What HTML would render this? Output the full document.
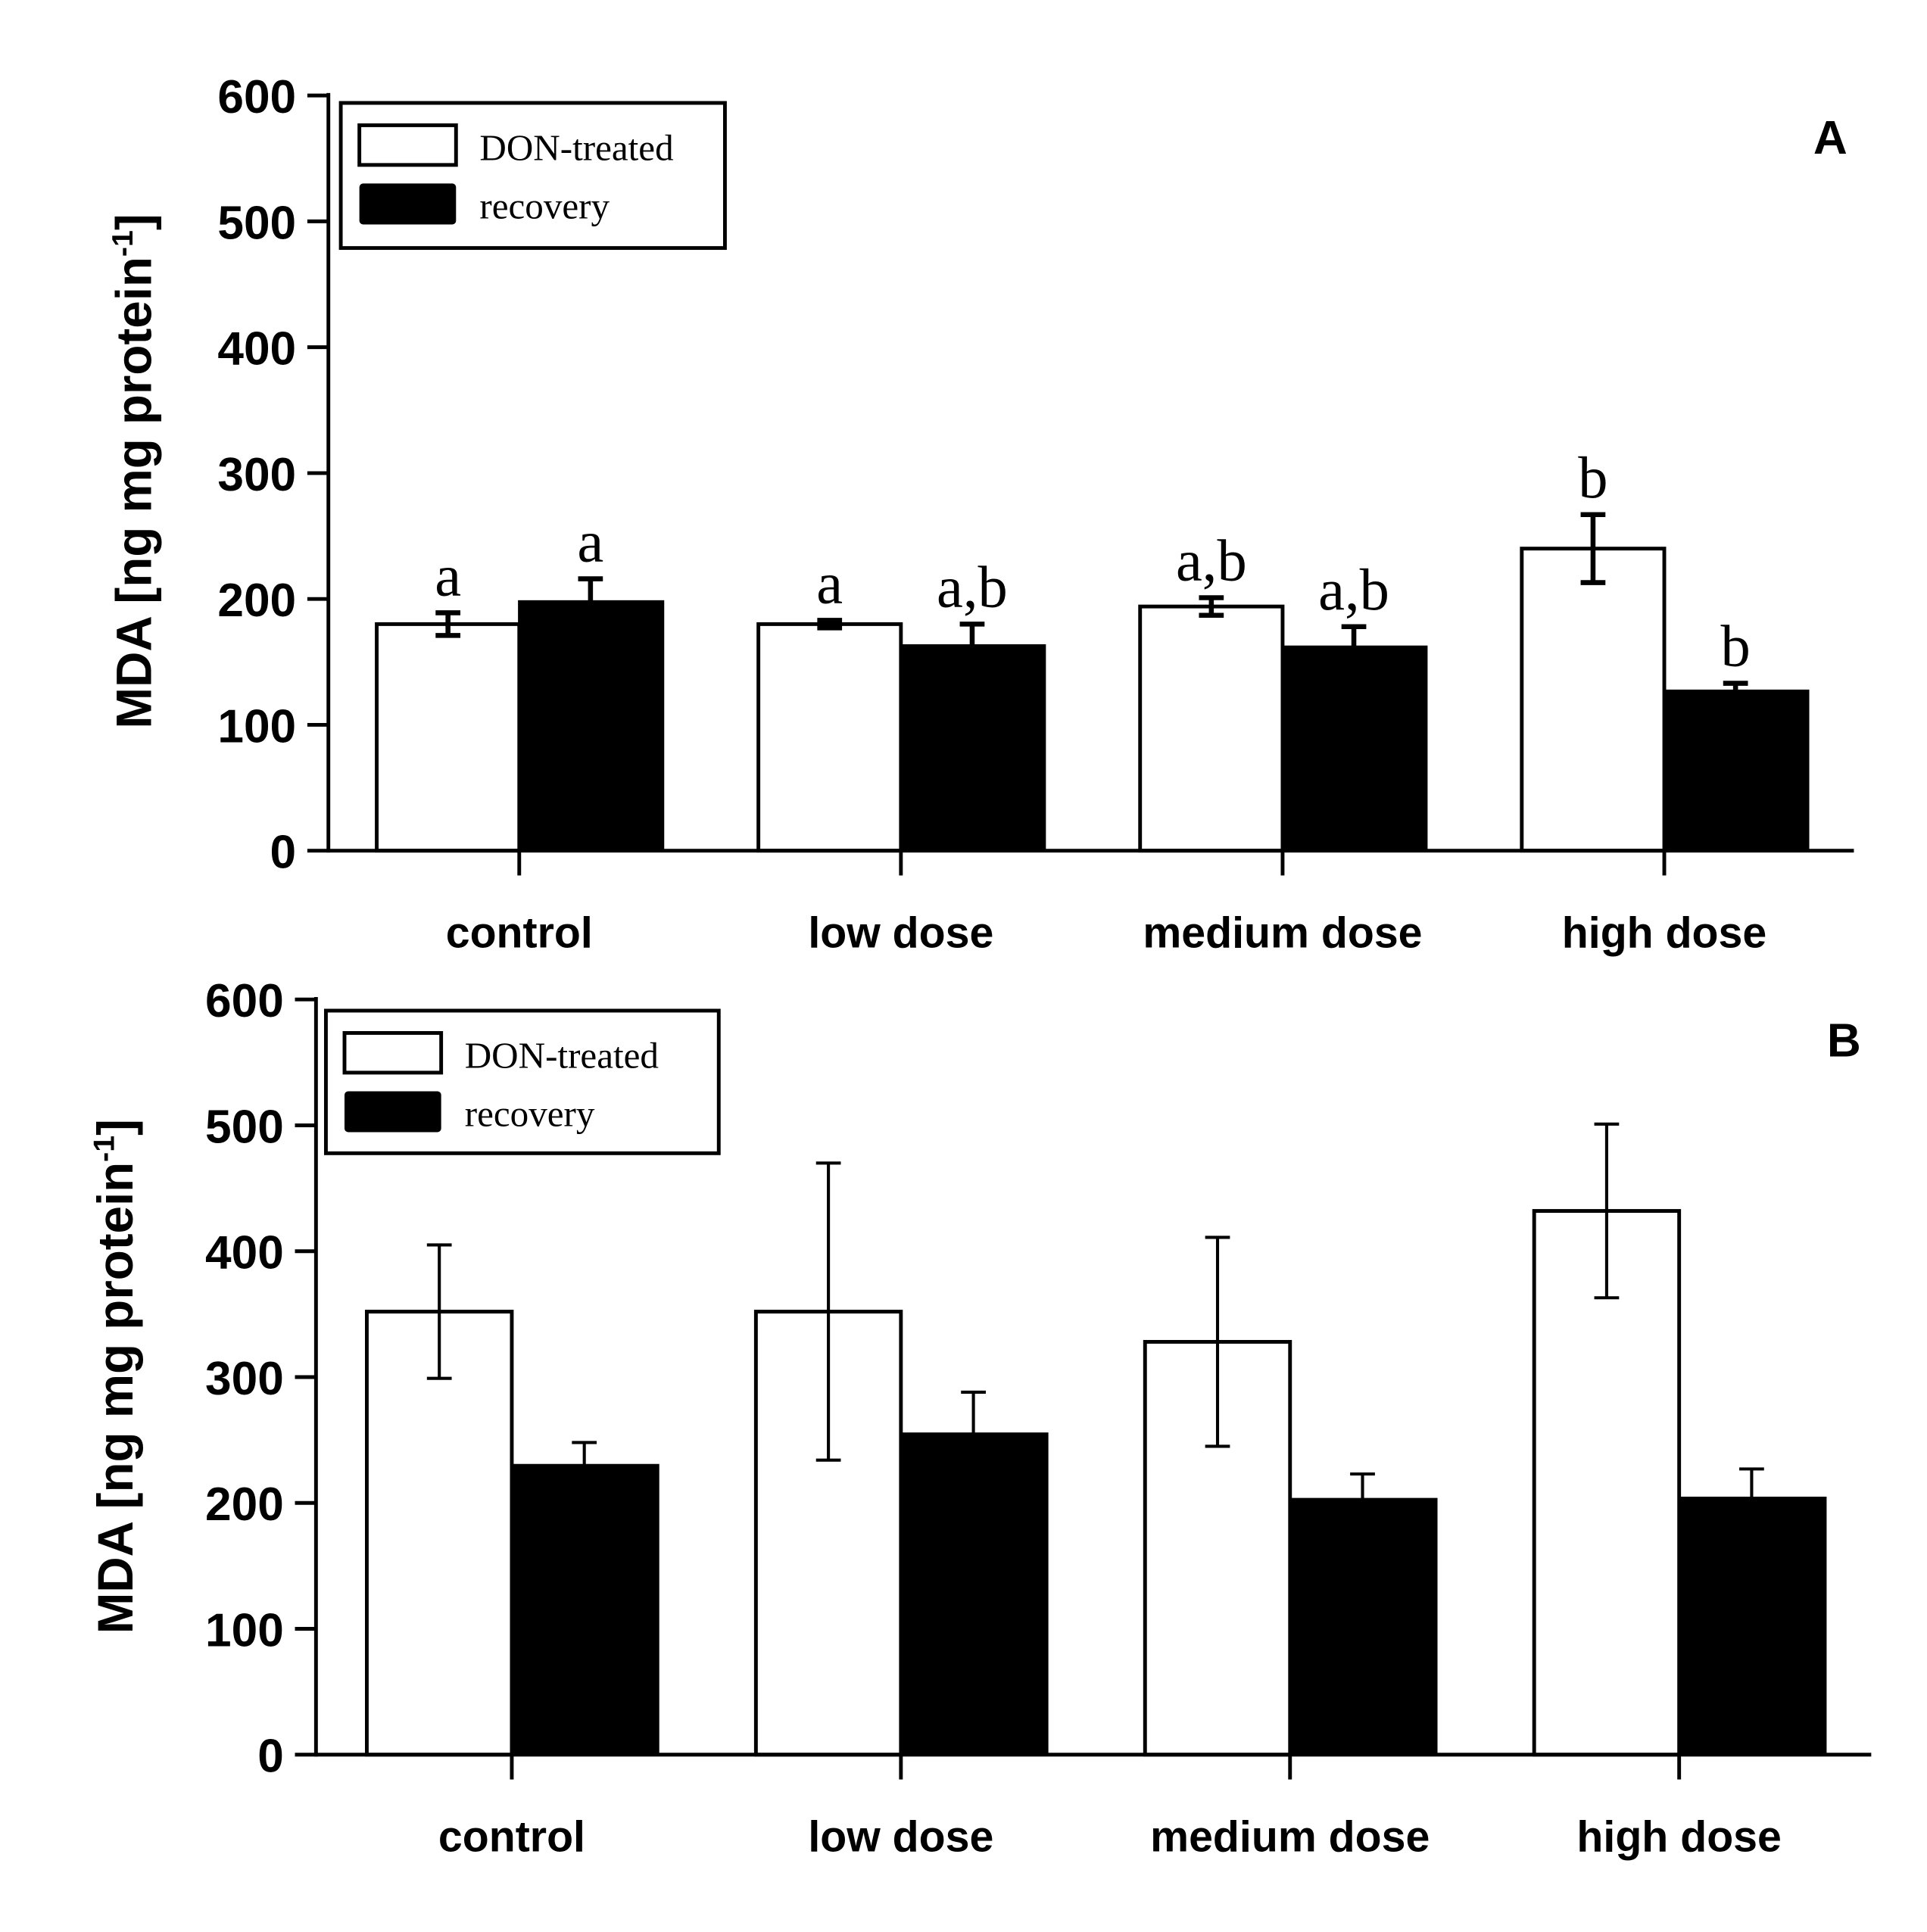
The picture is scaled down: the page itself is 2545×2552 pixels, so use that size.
<!DOCTYPE html>
<html><head><meta charset="utf-8"><style>
html,body{margin:0;padding:0;background:#fff;}
svg{display:block;}
.tick{font-family:"Liberation Sans",Arial,sans-serif;font-weight:bold;font-size:38px;}
.ytitle{font-family:"Liberation Sans",Arial,sans-serif;font-weight:bold;font-size:40px;}
.cat{font-family:"Liberation Sans",Arial,sans-serif;font-weight:bold;font-size:35px;}
.leg{font-family:"Liberation Serif",serif;font-size:30px;}
.let{font-family:"Liberation Serif",serif;font-size:48px;}
</style></head><body>
<svg id="chart" width="2545" height="2552" viewBox="0 0 1555 1558" preserveAspectRatio="none" xmlns="http://www.w3.org/2000/svg"></svg>
<script>
const categories = ["control","low dose","medium dose","high dose"];
const yTicks = [0,100,200,300,400,500,600];
const aTreated = [180,180,194,240];
const aTreatedErr = [9,3,7,27];
const aRecovery = [198,163,162,127];
const aRecoveryErr = [18,17,16,6];
const aTreatedLetters = ["a","a","a,b","b"];
const aRecoveryLetters = ["a","a,b","a,b","b"];
const bTreated = [352,352,328,432];
const bTreatedErr = [53,118,83,69];
const bRecovery = [230,255,203,204];
const bRecoveryErr = [18,33,20,23];

const svg = document.getElementById('chart');
const NS = 'http://www.w3.org/2000/svg';
function mk(tag, attrs, parent){const e=document.createElementNS(NS,tag);for(const k in attrs)e.setAttribute(k,attrs[k]);(parent||svg).appendChild(e);return e;}

function panel(cfg){
  const g = mk('g',{});
  
  
  const y = v => cfg.y0 - (v/600)*(cfg.y0-cfg.y600);
  const cx = i => cfg.c0 + i*cfg.gw;
  const bw = cfg.bw;
  for(let i=0;i<categories.length;i++){
    const c=cx(i);
    const tv=cfg.t[i], rv=cfg.r[i];
    const e1 = mk('g',{},g);
    
    
    const ex=c-bw/2;
    mk('line',{x1:ex,x2:ex,y1:y(tv+cfg.te[i]),y2:y(tv-cfg.te[i]),stroke:'#000','stroke-width':cfg.ew},e1);
    mk('line',{x1:ex-10,x2:ex+10,y1:y(tv+cfg.te[i]),y2:y(tv+cfg.te[i]),stroke:'#000','stroke-width':cfg.ew},e1);
    mk('line',{x1:ex-10,x2:ex+10,y1:y(tv-cfg.te[i]),y2:y(tv-cfg.te[i]),stroke:'#000','stroke-width':cfg.ew},e1);
    const b1=mk('rect',{x:c-bw,y:y(tv),width:bw,height:y(0)-y(tv),fill:'none',stroke:'#000','stroke-width':3},g);
    
    
    const b2=mk('rect',{x:c,y:y(rv),width:bw+1,height:y(0)-y(rv),fill:'#000',stroke:'#000','stroke-width':2},g);
    
    
    const rx=c+bw/2;
    const e2=mk('g',{},g);
    
    
    mk('line',{x1:rx,x2:rx,y1:y(rv+cfg.re[i]),y2:y(rv),stroke:'#000','stroke-width':cfg.ew},e2);
    mk('line',{x1:rx-10,x2:rx+10,y1:y(rv+cfg.re[i]),y2:y(rv+cfg.re[i]),stroke:'#000','stroke-width':cfg.ew},e2);
    if(cfg.tl){
      const t1=mk('text',{x:ex,y:y(tv+cfg.te[i])-14,'text-anchor':'middle',class:'let'},g);
      t1.textContent=cfg.tl[i];
      
      
      const t2=mk('text',{x:rx,y:y(rv+cfg.re[i])-14,'text-anchor':'middle',class:'let'},g);
      t2.textContent=cfg.rl[i];
      
      
    }
    mk('line',{x1:c,x2:c,y1:y(0),y2:y(0)+20,stroke:'#000','stroke-width':3},g);
    const lab=mk('text',{x:c,y:cfg.labY,'text-anchor':'middle',class:'cat'},g);
    lab.textContent=categories[i];
    
    
  }
  const ya=mk('line',{x1:cfg.ax,x2:cfg.ax,y1:y(600)-2,y2:y(0)+1.5,stroke:'#000','stroke-width':3},g);
  
  
  const xa=mk('line',{x1:cfg.ax,x2:cfg.axEnd,y1:y(0),y2:y(0),stroke:'#000','stroke-width':3},g);
  
  
  yTicks.forEach(v=>{
    mk('line',{x1:cfg.ax-17,x2:cfg.ax,y1:y(v),y2:y(v),stroke:'#000','stroke-width':3},g);
    const t=mk('text',{x:cfg.ax-26,y:y(v)+14,'text-anchor':'end',class:'tick'},g);
    t.textContent=v;
    
    
  });
  const yt=mk('text',{x:0,y:0,'text-anchor':'middle',class:'ytitle',transform:`translate(${cfg.titleX},${cfg.titleY}) rotate(-90)`},g);
  yt.innerHTML='MDA [ng mg protein<tspan dy="-15" font-size="24">-1</tspan><tspan dy="15">]</tspan>';
  
  
  const L=cfg.leg;
  const lg=mk('g',{},g);
  
  
  mk('rect',{x:L.x,y:L.y,width:L.w,height:L.h,fill:'#fff',stroke:'#000','stroke-width':3},lg);
  mk('rect',{x:L.x+15,y:L.y+18,width:78,height:32,fill:'#fff',stroke:'#000','stroke-width':3},lg);
  mk('rect',{x:L.x+15,y:L.y+65,width:78,height:33,fill:'#000',rx:3},lg);
  const l1=mk('text',{x:L.x+112,y:L.y+46,class:'leg'},lg); l1.textContent='DON-treated';
  
  
  const l2=mk('text',{x:L.x+112,y:L.y+93,class:'leg'},lg); l2.textContent='recovery';
  
  
  const pl=mk('text',{x:cfg.letX,y:cfg.letY,'text-anchor':'middle',class:'tick','font-size':'52'},g);
  pl.textContent=cfg.letter;
  
  
}
panel({name:'panel-a',y0:686,y600:77,ax:265,axEnd:1496,c0:419,gw:308,bw:115,t:aTreated,te:aTreatedErr,r:aRecovery,re:aRecoveryErr,tl:aTreatedLetters,rl:aRecoveryLetters,ew:4,labY:764,titleX:122,titleY:380,leg:{x:275,y:83,w:310,h:117},letter:'A',letX:1477,letY:124});
panel({name:'panel-b',y0:1415,y600:806,ax:255,axEnd:1510,c0:413,gw:314,bw:117,t:bTreated,te:bTreatedErr,r:bRecovery,re:bRecoveryErr,tl:null,rl:null,ew:2.5,labY:1493,titleX:107,titleY:1110,leg:{x:263,y:815,w:317,h:115},letter:'B',letX:1488,letY:852});
</script>
</body></html>
